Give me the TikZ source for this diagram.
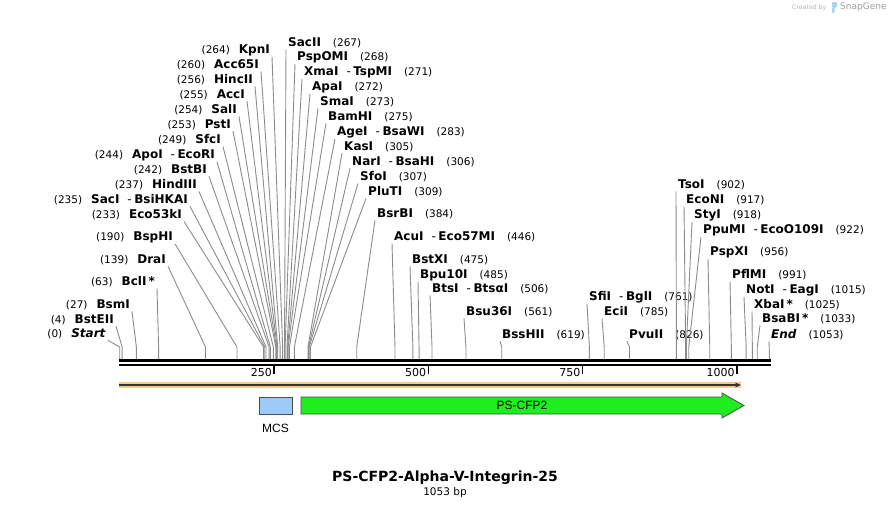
\documentclass[tikz,border=0pt]{standalone}
\usepackage{fontspec}
\usetikzlibrary{arrows.meta}
\setmainfont{DejaVu Sans}
\newfontfamily\featfont{Liberation Sans}
\definecolor{leadgray}{HTML}{8C8C8C}
\definecolor{cfpgreen}{HTML}{1EEE1E}
\definecolor{mcsblue}{HTML}{9CCBFA}
\definecolor{bandorange}{HTML}{F7CB80}
\definecolor{credgray}{HTML}{B4B4B4}
\definecolor{logoblue}{HTML}{A6D6F2}
\newcommand{\enzsep}{\hspace{8pt}\mdseries-\hspace{2.5pt}\bfseries}
\newcommand{\numfont}{\fontsize{10.5}{12}\selectfont}
\begin{document}
\begin{tikzpicture}[x=1pt,y=-1pt,
    lbl/.style={inner xsep=2pt, inner ysep=1pt, font=\fontsize{12}{14}\selectfont},
    leader/.style={leadgray, line width=0.9pt},
    featlab/.style={inner sep=0pt, font=\featfont\fontsize{12}{14}\selectfont}]
    \fill[white] (0,0) rectangle (890,509);
    \useasboundingbox (0,0) rectangle (890,509);
    % enzymes left of their leaders
    \foreach \bp/\xe/\yy/\nm [count=\i] in {264/270/50/KpnI, 260/259/65/Acc65I,
        256/253/80/HincII, 255/245/95/AccI, 254/237/110/SalI, 253/231/125/PstI,
        249/221/140/SfcI, 244/215/155/ApoI\enzsep EcoRI, 242/207/170/BstBI,
        237/197/185/HindIII, 235/188/200/SacI\enzsep BsiHKAI, 233/182/215/Eco53kI,
        190/173/237/BspHI, 139/166/260/DraI, 63/155/282/BclI\,*, 27/130/305/BsmI,
        4/114/320/BstEII}{
        \pgfmathsetmacro\sx{119.7+0.6172*\bp}
        \node[lbl, anchor=east] (L\i) at (\xe+2,\yy) {{\numfont(\bp)}\hspace{9pt}\textbf{\nm}};
        \coordinate (Lb\i) at (\sx,347);
        \coordinate (Ls\i) at (\sx,359);
        \draw[leader] (L\i.south east) -- (Lb\i) -- (Ls\i);
    }
    \node[lbl, anchor=east] (start) at (108,334) {{\numfont(0)}\hspace{9pt}\textbf{\textit{Start}}};
    \coordinate (startb) at (119.7,347);
    \coordinate (starts) at (119.7,359);
    \draw[leader] (start.south east) -- (startb) -- (starts);
    % enzymes right of their leaders
    \foreach \bp/\xs/\yy/\nm [count=\i] in {267/288/43/SacII, 268/297/57/PspOMI,
        271/304/72/XmaI\enzsep TspMI, 272/312/87/ApaI, 273/320/102/SmaI,
        275/328/117/BamHI, 283/337/132/AgeI\enzsep BsaWI, 305/344/147/KasI,
        306/352/162/NarI\enzsep BsaHI, 307/360/177/SfoI, 309/368/192/PluTI,
        384/377/214/BsrBI, 446/394/237/AcuI\enzsep Eco57MI, 475/412/260/BstXI,
        485/420/275/Bpu10I, 506/432/289/BtsI\enzsep BtsαI, 561/466/312/Bsu36I,
        619/502/335/BssHII, 761/589/297/SfiI\enzsep BglI, 785/604/312/EciI,
        826/629/335/PvuII, 902/678/185/TsoI, 917/686/200/EcoNI, 918/694/215/StyI,
        922/703/230/PpuMI\enzsep EcoO109I, 956/710/252/PspXI, 991/732/275/PflMI,
        1015/746/290/NotI\enzsep EagI, 1025/754/305/XbaI\,*, 1033/762/319/BsaBI\,*}{
        \pgfmathsetmacro\sx{119.7+0.6172*\bp}
        \node[lbl, anchor=west] (R\i) at (\xs-2,\yy) {\textbf{\nm}\hspace{12pt}{\numfont(\bp)}};
        \coordinate (Rb\i) at (\sx,347);
        \coordinate (Rs\i) at (\sx,359);
        \draw[leader] (R\i.south west) -- (Rb\i) -- (Rs\i);
    }
    \node[lbl, anchor=west] (end) at (769,335) {\textbf{\textit{End}}\hspace{12pt}{\numfont(1053)}};
    \coordinate (ends) at (769.6,359);
    \draw[leader] (end.south west) -- (ends);
    % sequence
    \coordinate (seqA) at (118.5,360.5);
    \coordinate (seqB) at (770.5,360.5);
    \coordinate (seqC) at (118.5,364.8);
    \coordinate (seqD) at (770.5,364.8);
    \draw[line width=3pt] (seqA) -- (seqB);
    \draw[line width=2.5pt] (seqC) -- (seqD);
    \foreach \t in {250,500,750,1000}{
        \pgfmathsetmacro\tx{119.7+0.6172*\t}
        \coordinate (tA\t) at (\tx,366);
        \coordinate (tB\t) at (\tx,374);
        \draw[line width=1.6pt] (tA\t) -- (tB\t);
        \node[anchor=east, inner sep=0pt, font=\fontsize{11}{13}\selectfont] (tl\t) at (\tx-2,372) {\t};
    }
    % features
    \coordinate (orgA) at (119,385);
    \coordinate (orgB) at (741,385);
    \draw[bandorange, line width=6pt] (orgA) -- (orgB);
    \draw[black!80, line width=1.2pt, -{Stealth[length=6pt,width=5pt]}] (orgA) -- (orgB);
    \node[draw=black!70, fill=mcsblue, line width=0.8pt, minimum width=33pt, minimum height=17pt, inner sep=0pt] (mcs) at (275.5,405.5) {};
    \node[featlab] (mcslab) at (275.5,428) {MCS};
    \filldraw[fill=cfpgreen, draw=black!70, line width=0.8pt] (301,397) -- (722,397) -- (722,393)
        -- (744,405.5) -- (722,418) -- (722,414) -- (301,414) -- cycle;
    \node[featlab] (cfplab) at (522,405.5) {PS-CFP2};
    % title
    \node[font=\fontsize{14}{16}\selectfont\bfseries] (title) at (445,478) {PS-CFP2-Alpha-V-Integrin-25};
    \node[font=\fontsize{10.5}{12}\selectfont] (size) at (445,493) {1053 bp};
    % credit
    \node[anchor=west, inner sep=0pt, text=credgray, font=\fontsize{6.2}{7}\selectfont] (cred) at (792,7.5) {Created by};
    \fill[logoblue, rounded corners=1pt] (832,2) rectangle (837,7.5) (832,7) rectangle (834.5,13);
    \node[anchor=west, inner sep=0pt, text=gray!75, font=\fontsize{9}{10}\selectfont] (snap) at (840,7.5) {SnapGene};
\end{tikzpicture}
\end{document}
